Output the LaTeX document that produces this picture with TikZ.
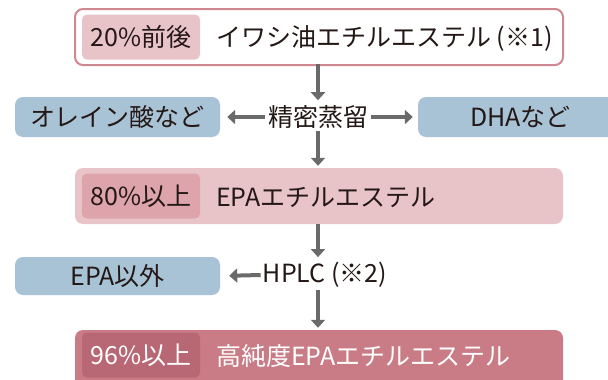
\documentclass[tikz,border=0pt]{standalone}
\usepackage{fontspec}
\setmainfont{Noto Sans CJK JP}
\usetikzlibrary{arrows.meta}
\definecolor{pinkborder}{HTML}{D08890}
\definecolor{pinklight}{HTML}{E8C4C8}
\definecolor{pinkmid}{HTML}{DDA4AC}
\definecolor{pinkdark}{HTML}{C97C86}
\definecolor{pinkdarker}{HTML}{B86874}
\definecolor{bluebox}{HTML}{A9C3D6}
\definecolor{arrowgray}{HTML}{6A6A6A}
\definecolor{txt}{HTML}{231815}
\tikzset{
  fsz/.style={font=\fontsize{25}{28}\selectfont},
  mainbox/.style={rounded corners=8pt, minimum width=488pt, minimum height=56pt, inner sep=0pt},
  tagbox/.style={rounded corners=5pt, minimum width=118pt, minimum height=45pt, inner sep=0pt, fsz},
  sidebox/.style={fill=bluebox, rounded corners=8pt, minimum width=205pt, minimum height=40pt, inner sep=0pt, fsz, text=txt},
  lbl/.style={inner sep=0pt, anchor=west, fsz, text=txt},
  midlbl/.style={inner sep=2pt, fsz, text=txt},
  flow/.style={draw=arrowgray, line width=4pt, -{Triangle[length=8pt,width=14pt]}},
}
\begin{document}
\begin{tikzpicture}[x=1pt,y=-1pt]
\useasboundingbox (0,0) rectangle (608,380);
% row 1
\node[mainbox, draw=pinkborder, line width=2pt, fill=white] (b1) at (319,37) {};
\node[tagbox, fill=pinklight, text=txt] (t1) at (141,37) {20\%前後};
\node[lbl] (l1) at (216,38) {イワシ油エチルエステル (※1)};
% row 2
\node[midlbl] (d) at (318,117) {精密蒸留};
\node[sidebox] (ole) at (117.5,117) {オレイン酸など};
\node[sidebox] (dha) at (520.5,117) {DHAなど};
% row 3
\node[mainbox, fill=pinklight] (b3) at (319,196) {};
\node[tagbox, fill=pinkmid, text=txt] (t3) at (141,196) {80\%以上};
\node[lbl] (l3) at (216,197) {EPAエチルエステル};
% row 4
\node[midlbl] (h) at (325,275) {HPLC (※2)};
\node[sidebox, minimum height=38pt] (epa) at (117.5,276) {EPA以外};
% row 5
\node[mainbox, fill=pinkdark, minimum height=60pt] (b5) at (319,360) {};
\node[tagbox, fill=pinkdarker, text=white] (t5) at (141,355) {96\%以上};
\node[lbl, text=white] (l5) at (216,356) {高純度EPAエチルエステル};
% connectors
\coordinate (d1) at (318,64);
\draw[flow, shorten >=3pt] (d1) -- (d.north -| d1);
\draw[flow, shorten >=2pt] (d.south -| d1) -- (b3.north -| d1);
\draw[flow, shorten <=1pt, shorten >=7pt] (d.west) -- (ole.east);
\draw[flow, shorten <=1pt, shorten >=5pt] (d.east) -- (dha.west);
\draw[flow, shorten >=3pt] (b3.south -| d1) -- (h.north -| d1);
\draw[flow, shorten <=0pt, shorten >=9pt] (h.west) -- (epa.east);
\draw[flow, shorten >=2pt] (h.south -| d1) -- (b5.north -| d1);
\end{tikzpicture}
\end{document}
